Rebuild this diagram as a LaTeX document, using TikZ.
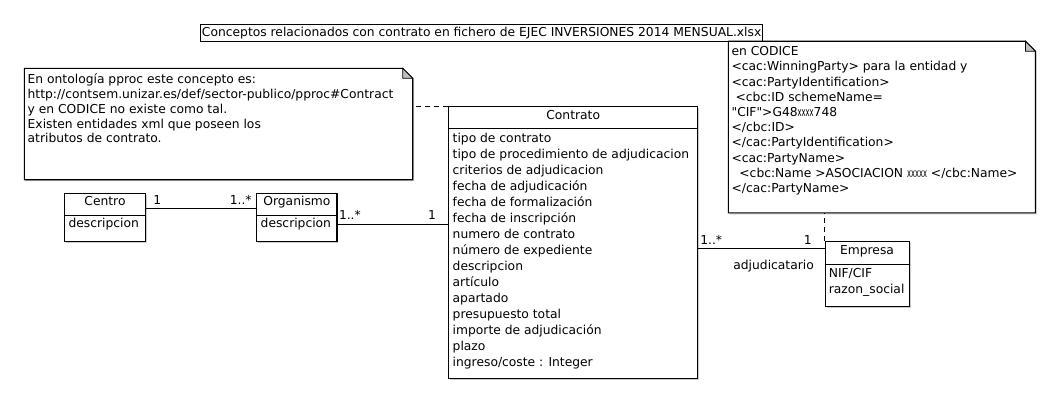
\documentclass[tikz,border=0pt]{standalone}
\usepackage{fontspec}
\setmainfont{DejaVu Sans}
\usetikzlibrary{calc,shadows}

\tikzset{
 caja/.style={draw, line width=1.1pt, fill=white, inner sep=0pt, anchor=north west,
  drop shadow={shadow xshift=1.5pt, shadow yshift=-1.5pt, fill=black!40}},
 texto/.style={inner sep=0pt, font=\fontsize{12.3}{15}\selectfont},
 enlace/.style={line width=0.9pt},
 discontinua/.style={line width=0.9pt, dash pattern=on 5pt off 4pt},
 doblez/.style={fill=black!25, line width=0.8pt},
}

\newcommand{\clase}[7]{% nombre, x, y, ancho, alto, alto cabecera, titulo
\node[caja, minimum width=#4pt, minimum height=#5pt] (#1) at (#2,#3) {};
\draw[line width=1.1pt] ($(#1.north west)+(0,#6)$) -- ($(#1.north east)+(0,#6)$);
\node[texto, anchor=base] (#1-titulo) at ($(#1.north)+(0,13)$) {#7};
}
\newcommand{\nota}[5]{% nombre, x, y, ancho, alto
\node[anchor=north west, minimum width=#4pt, minimum height=#5pt, inner sep=0pt] (#1) at (#2,#3) {};
\fill[black!20] ($(#1.north west)+(1.5,1.5)$) -- ($(#1.north east)+(-8.5,1.5)$) -- ($(#1.north east)+(1.5,11.5)$)
 -- ($(#1.south east)+(1.5,1.5)$) -- ($(#1.south west)+(1.5,1.5)$) -- cycle;
\filldraw[fill=white, line width=1.1pt] (#1.north west) -- ($(#1.north east)+(-10,0)$) -- ($(#1.north east)+(0,10)$)
 -- (#1.south east) -- (#1.south west) -- cycle;
\filldraw[doblez] ($(#1.north east)+(-10,0)$) -- ($(#1.north east)+(-10,10)$) -- ($(#1.north east)+(0,10)$) -- cycle;
}
\newcommand{\lineas}[5]{% nombre, x, y primera linea, paso, lineas
\foreach \l [count=\i from 0] in {#5}
 \node[texto, anchor=base west] (#1-\i) at (#2,#3+#4*\i) {\l};
}
\newcommand{\equis}[1]{\scalebox{0.55}[1]{#1}}% xxxx estrechas

\begin{document}
\begin{tikzpicture}[x=1pt,y=-1pt]
\useasboundingbox (0,0) rectangle (1059,400);

\node[draw, line width=0.9pt, anchor=west, minimum height=16.5pt, inner xsep=1.5pt, inner ysep=0pt,
 font=\fontsize{12.3}{15}\selectfont] (titulo) at (200,32.8)
 {Conceptos relacionados con contrato en fichero de EJEC INVERSIONES 2014 MENSUAL.xlsx};

% notas
\nota{nota1}{24.3}{68.3}{388}{111}
\lineas{nota1t}{27.5}{83.3}{14.9}{En ontología pproc este concepto es:,
 http://contsem.unizar.es/def/sector-publico/pproc\#Contract,
 y en CODICE no existe como tal.,
 Existen entidades xml que poseen los,
 atributos de contrato.}

\nota{nota2}{728.4}{41.2}{306.6}{171.3}
\lineas{nota2t}{731.4}{55.7}{15.2}{en CODICE,
 <cac:WinningParty> para la entidad y,
 <cac:PartyIdentification>,
 \ <cbc:ID schemeName=,
 \textquotedbl{}CIF\textquotedbl{}>G48\equis{xxxx}748,
 </cbc:ID>,
 </cac:PartyIdentification>,
 <cac:PartyName>,
 \ \ <cbc:Name >ASOCIACION \equis{xxxxx} </cbc:Name>,
 </cac:PartyName>}

% clases
\clase{centro}{64.2}{192.5}{80.5}{48.7}{23}{Centro}
\lineas{centro-a}{68.3}{227.8}{16}{descripcion}

\clase{organismo}{256.3}{192.5}{80.1}{48.7}{23}{Organismo}
\lineas{organismo-a}{260.5}{227.8}{16}{descripcion}

\clase{contrato}{448.3}{106.2}{248.7}{272}{22.6}{Contrato}
\lineas{contrato-a}{452.5}{142.7}{16}{tipo de contrato,
 tipo de procedimiento de adjudicacion,
 criterios de adjudicacion,
 fecha de adjudicación,
 fecha de formalización,
 fecha de inscripción,
 numero de contrato,
 número de expediente,
 descripcion,
 artículo,
 apartado,
 presupuesto total,
 importe de adjudicación,
 plazo,
 ingreso/coste : Integer}

\clase{empresa}{824.5}{241.2}{84}{64.4}{22.9}{Empresa}
\lineas{empresa-a}{828.6}{277.6}{16}{NIF/CIF,razon\_social}

% relaciones
\draw[enlace] ($(centro.north east)+(0,16.2)$) coordinate (co) -- (co -| organismo.west);
\draw[enlace] ($(organismo.north east)+(0,32.1)$) coordinate (oc) -- (oc -| contrato.west);
\draw[enlace] ($(empresa.north west)+(0,7.7)$) coordinate (ce) -- (ce -| contrato.east);
\draw[discontinua] (contrato.north west) -- (contrato.north west -| nota1.east);
\draw[discontinua] (empresa.north west) -- (empresa.north west |- nota2.south);

\node[texto] (m1) at (157.2,199.6) {1};
\node[texto] (m2) at (240.7,199.6) {1..*};
\node[texto] (m3) at (349.9,215.2) {1..*};
\node[texto] (m4) at (432,215.2) {1};
\node[texto] (m5) at (711.2,239.8) {1..*};
\node[texto] (m6) at (807.7,239.8) {1};
\node[texto] (rol) at (773.6,265.8) {adjudicatario};
\end{tikzpicture}
\end{document}
